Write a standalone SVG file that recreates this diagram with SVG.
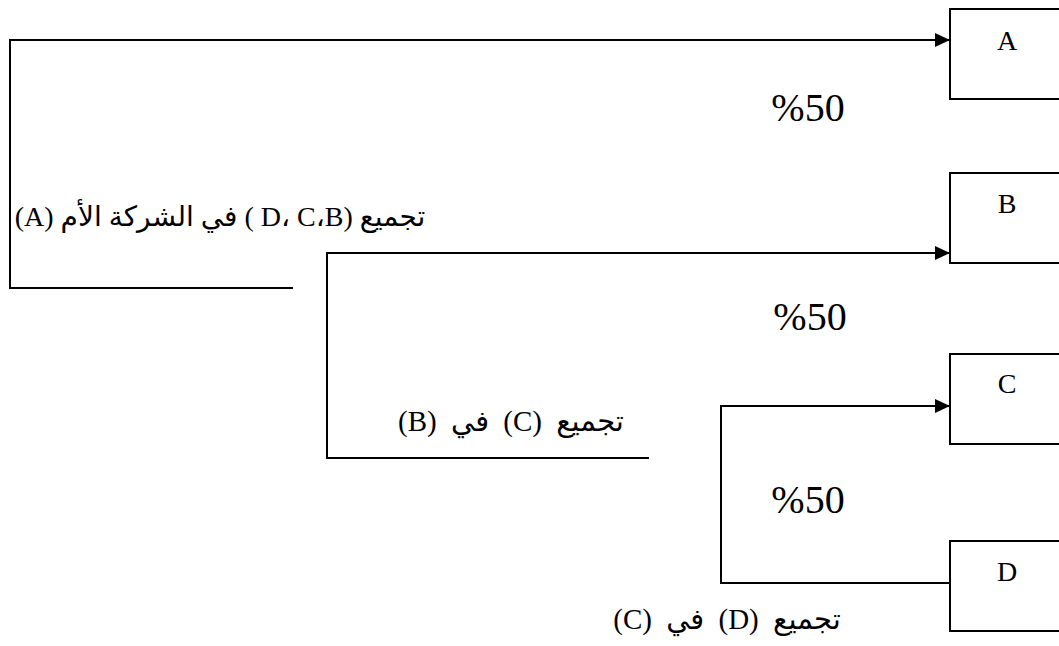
<svg xmlns="http://www.w3.org/2000/svg" width="1059" height="646" viewBox="0 0 1059 646">
  <style>
    .box { fill: #fff; stroke: #000; stroke-width: 2; }
    .lbl { font-family: "Liberation Serif", "Times New Roman", serif; font-size: 28px; fill: #000; text-anchor: middle; }
    .wire { fill: none; stroke: #000; stroke-width: 2; }
    .pct { font-family: "Liberation Serif", "Times New Roman", serif; font-size: 40px; fill: #000; text-anchor: middle; }
    .ar { font-family: "Liberation Serif", "DejaVu Sans", serif; font-size: 28px; fill: #000; text-anchor: middle; direction: rtl; unicode-bidi: embed; }
    .ar.wide { font-size: 29px; word-spacing: 7px; }
  </style>
  <defs>
    <marker id="arrow" markerWidth="15" markerHeight="14" refX="15" refY="7" orient="auto" markerUnits="userSpaceOnUse">
      <path d="M0,0 L15,7 L0,14 Z" fill="#000"/>
    </marker>
  </defs>

  <rect width="1059" height="646" fill="#fff"/>

  <!-- companies -->
  <g id="node-A">
    <rect class="box" x="950" y="9" width="120" height="90"/>
    <text class="lbl" x="1007" y="50">A</text>
  </g>
  <g id="node-B">
    <rect class="box" x="950" y="173" width="120" height="90"/>
    <text class="lbl" x="1007" y="213">B</text>
  </g>
  <g id="node-C">
    <rect class="box" x="950" y="354" width="120" height="90"/>
    <text class="lbl" x="1007" y="393">C</text>
  </g>
  <g id="node-D">
    <rect class="box" x="950" y="541" width="120" height="90"/>
    <text class="lbl" x="1007" y="581">D</text>
  </g>

  <!-- consolidation brackets -->
  <g id="connectors">
    <path class="wire" d="M293,288 H10 V40 H950" marker-end="url(#arrow)"/>
    <path class="wire" d="M649,458 H327 V253 H950" marker-end="url(#arrow)"/>
    <path class="wire" d="M950,583 H721 V406 H950" marker-end="url(#arrow)"/>
  </g>

  <!-- ownership shares -->
  <g id="shares">
    <text class="pct" x="808" y="121">%50</text>
    <text class="pct" x="810" y="330">%50</text>
    <text class="pct" x="808" y="513">%50</text>
  </g>

  <!-- consolidation notes -->
  <g id="notes">
    <text class="ar" x="220" y="226">تجميع (B،&#x200F;C ،&#x200F;D ) في الشركة الأم (A)</text>
    <text class="ar wide" x="511" y="431">تجميع (C)  في (B)</text>
    <text class="ar wide" x="727" y="629">تجميع (D)  في (C)</text>
  </g>
</svg>
